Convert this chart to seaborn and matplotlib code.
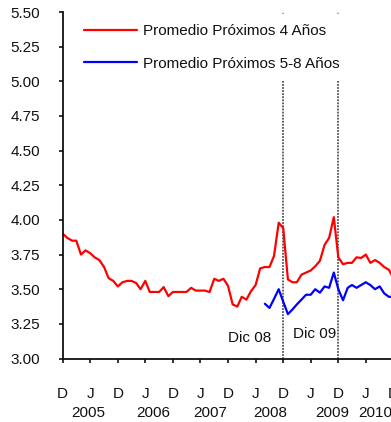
import numpy as np
import pandas as pd
import matplotlib
matplotlib.use("Agg")
import matplotlib.pyplot as plt
import matplotlib.transforms as mtransforms
import seaborn as sns

# Monthly observations, December 2004 to December 2010
months = pd.date_range("2004-12-01", periods=73, freq="MS")

promedio_4 = [
    3.90, 3.87, 3.85, 3.85, 3.75, 3.78, 3.76, 3.73, 3.71, 3.66, 3.58, 3.56,
    3.52, 3.55, 3.56, 3.56, 3.545, 3.50, 3.56, 3.48, 3.48, 3.48, 3.515, 3.45,
    3.48, 3.48, 3.48, 3.48, 3.51, 3.49, 3.49, 3.49, 3.48, 3.575, 3.56, 3.575,
    3.525, 3.39, 3.375, 3.445, 3.425, 3.485, 3.53, 3.65, 3.66, 3.66, 3.74, 3.98,
    3.94, 3.57, 3.55, 3.55, 3.605, 3.62, 3.635, 3.665, 3.705, 3.82, 3.87, 4.02,
    3.73, 3.68, 3.69, 3.69, 3.73, 3.725, 3.75, 3.69, 3.71, 3.69, 3.66, 3.64,
    3.58,
]

promedio_5_8 = [np.nan] * 44 + [
    3.395, 3.365, 3.43, 3.50,
    3.41, 3.32, 3.355, 3.39, 3.425, 3.46, 3.46, 3.50, 3.475, 3.52, 3.51, 3.62,
    3.50, 3.42, 3.51, 3.53, 3.51, 3.53, 3.55, 3.53, 3.50, 3.52, 3.47, 3.445,
    3.445,
]

series_names = ["Promedio Próximos 4 Años", "Promedio Próximos 5-8 Años"]
series_colors = ["#ff0000", "#0000ff"]

y_ticks = [3.00, 3.25, 3.50, 3.75, 4.00, 4.25, 4.50, 4.75, 5.00, 5.25, 5.50]
x_tick_dates = pd.date_range("2004-12-01", "2010-12-01", freq="6MS")
x_tick_labels = ["D", "J"] * 6 + ["D"]

year_labels = ["2005", "2006", "2007", "2008", "2009", "2010"]
year_label_dates = pd.to_datetime(["2005-05-16", "2006-07-25", "2007-08-04",
                                   "2008-09-04", "2009-10-20", "2010-08-01"])

marker_dates = pd.to_datetime(["2008-12-01", "2009-12-01"])
marker_labels = ["Dic 08", "Dic 09"]
marker_label_pos = [(pd.Timestamp("2008-04-24"), 3.151),
                    (pd.Timestamp("2009-06-28"), 3.176)]

df = pd.DataFrame({"fecha": months,
                   series_names[0]: promedio_4,
                   series_names[1]: promedio_5_8})
long_df = df.melt(id_vars="fecha", var_name="serie", value_name="tasa")

sns.set_theme(style="ticks")
plt.rcParams["font.family"] = ["Liberation Sans", "DejaVu Sans"]

W, H = 391, 422
fig = plt.figure(figsize=(W / 100, H / 100), dpi=100)
ax = fig.add_axes([62.7 / W, (H - 358.5) / H, 335.4 / W, (358.5 - 12) / H])

sns.lineplot(data=long_df, x="fecha", y="tasa", hue="serie",
             hue_order=series_names, palette=series_colors,
             linewidth=1.6, legend=False, ax=ax)

for d in marker_dates:
    ax.axvline(d, color="#555555", linestyle=(0, (1, 0.7)), linewidth=1.3,
               zorder=1)

for (xd, yv), txt in zip(marker_label_pos, marker_labels):
    ax.text(xd, yv, txt, fontsize=11, ha="center", va="center", color="#111111")

ax.set_xlim(pd.Timestamp("2004-12-01"), pd.Timestamp("2011-01-01"))
ax.set_ylim(3.0, 5.5)

ax.set_yticks(y_ticks)
ax.set_yticklabels([f"{v:.2f}" for v in y_ticks])
ax.set_xticks(x_tick_dates)
ax.set_xticklabels(x_tick_labels)

ax.tick_params(axis="y", length=3, width=1.2, pad=13.5, labelsize=11,
               colors="#111111", direction="out")
ax.tick_params(axis="x", length=3, width=1.2, pad=17.5, labelsize=11,
               colors="#111111", direction="out")
ax.set_xlabel("")
ax.set_ylabel("")

for side in ["top", "right"]:
    ax.spines[side].set_visible(False)
for side in ["left", "bottom"]:
    ax.spines[side].set_linewidth(1.3)
    ax.spines[side].set_color("#111111")

trans = mtransforms.blended_transform_factory(ax.transData, ax.transAxes)
for d, lab in zip(year_label_dates, year_labels):
    ax.text(d, -0.157, lab, transform=trans, fontsize=11, ha="center",
            va="center", color="#111111", clip_on=False)

handles = ax.lines[:2]
leg = ax.legend(handles, series_names, loc="upper left",
                bbox_to_anchor=(73.6 / W, 1 - 14.0 / H),
                bbox_transform=fig.transFigure, borderaxespad=0,
                frameon=True, fancybox=False, facecolor="white",
                edgecolor="none", framealpha=1, fontsize=11,
                handlelength=3.47, handletextpad=0.4, labelspacing=1.2,
                borderpad=0.68)
for t in leg.get_texts():
    t.set_color("#111111")

fig.savefig("out.png", dpi=100)
